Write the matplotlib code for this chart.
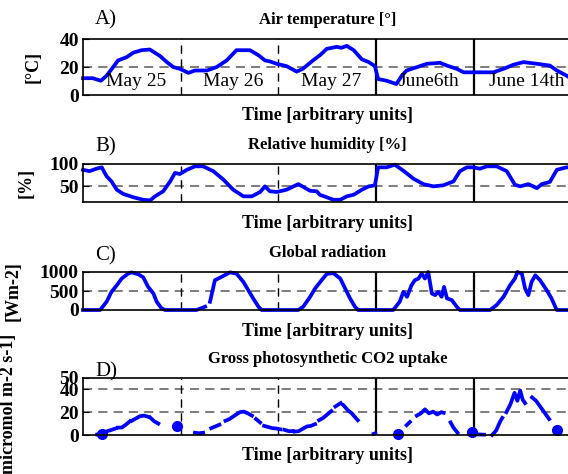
import matplotlib

matplotlib.use("Agg")
from matplotlib import pyplot as plt

nan = float("nan")

plt.rcParams["font.family"] = ["Liberation Serif", "DejaVu Serif"]

# hours since start of the first day (5 days of 24 h)
DAY_EDGES = [24, 48, 72, 96]
DAY_NAMES = ["May 25", "May 26", "May 27", "June6th", "June 14th"]

# A) air temperature [°C]
temp_h = [0, 2.4, 4.4, 5.8, 7.4, 8.6, 10.7, 12.4, 14.4, 16.4, 18.9, 20.6, 22.2, 23.8,
          25.9, 27.5, 30.4, 32.8, 35.3, 37.7, 41, 43.1, 44.7, 45.9, 47.6,
          50, 52.5, 54, 56.5, 58.2, 59.9, 62.3, 63.5, 64.8, 66.5, 68.5, 70.2, 71.7,
          72.5, 74.6, 77, 78.3, 79.5, 82, 84.5, 87.7, 89.4, 91.8, 93.5, 95.9,
          100.8, 103.3, 105.7, 108.2, 111.5, 114.7, 116.4, 118.8, 120]
temp_v = [12, 12, 10.2, 13.8, 19.9, 24.7, 27, 30.3, 32, 32.5, 27.9, 23.5, 19.9, 18.7,
          15.8, 17.5, 17.5, 19.9, 24.7, 32, 32, 28.4, 24.7, 24, 22.3,
          20.6, 16.7, 18.7, 24.7, 28.4, 33, 34.4, 33.7, 35.1, 32, 25.5, 23.5, 20.6,
          11.4, 10.2, 7.8, 13.8, 17.5, 19.9, 22.3, 23, 21, 18.7, 16.2, 16.2,
          16.2, 18.7, 21.6, 23.5, 22.3, 21, 17.5, 13.8, 11.5]

# B) relative humidity [%]
rh_h = [0, 1.6, 3.3, 4.6, 5.8, 7, 8.3, 9.9, 12.4, 14.8, 16.5, 17.7, 19.7, 21.4, 22.6, 23.8,
        25.5, 27.5, 29.5, 32, 34.5, 36.9, 39.4, 41.5, 43.5, 44.7, 45.9, 47.6,
        50, 52.9, 55.8, 57.4, 58.2, 59.9, 61.5, 63.2, 64.8, 66.5, 68.5, 70.2, 71.7,
        72.5, 74.6, 76.6, 78.7, 81.2, 83.6, 86.1, 88.5, 91, 92.6, 94.3, 95.8,
        97.5, 99.2, 101.6, 104.1, 106.1, 107.4, 109.4, 111.5, 112.7, 114.7, 116.4, 118.8, 120]
rh_v = [87, 84, 89.5, 92.6, 72.5, 61, 42.5, 33, 25.5, 20, 18.7, 27.7, 39, 61, 80, 77.6,
        87, 94.8, 94.8, 84, 65, 42.5, 27.7, 27.7, 37.4, 50, 39, 37.4,
        42.5, 55, 40, 39, 31, 25.5, 20, 20, 27.7, 31.3, 42.5, 50, 52.3,
        92.6, 92.6, 98.5, 85, 67, 55, 50, 52.3, 61, 84, 92.6, 92.6,
        89.5, 94.8, 94.8, 84, 53.6, 50, 55, 46, 55, 60, 87, 92.6, 92]

# C) global radiation [W m-2]
rad_h = [0, 4.2, 5.8, 7, 8.3, 9.5, 11.1, 11.9, 13.6, 14.8, 16, 17.3, 18.1, 19.3, 20.2,
         27.9, 30, 30.6, 31.2, 32.4, 34, 36.1, 37.7, 39.4, 40.6, 41.8, 43.1, 43.9,
         52.9, 54.1, 55.8, 57, 58.6, 59.9, 61.5, 63.2, 64.4, 65.6, 66.8, 67.6,
         76.2, 77.8, 78.7, 79.6, 80.7, 81.5, 82.4, 83.2, 84, 84.8, 85.7, 86.5, 87.3,
         88.1, 88.7, 89.4, 90.6, 91.8, 92.6,
         100, 101.6, 103.3, 104.9, 106.1, 106.7, 107.8, 108.6, 109.4, 110.2, 111.1,
         112.3, 113.9, 115.1, 116, 116.4, 120]
rad_v = [0, 0, 217, 478, 652, 827, 958, 990, 940, 860, 608, 435, 217, 44, 0,
         0, 87, nan, 217, 783, 870, 990, 958, 739, 522, 305, 87, 0,
         0, 87, 348, 565, 783, 950, 970, 827, 565, 305, 87, 0,
         0, 217, 478, 348, 652, 783, 827, 958, 827, 1000, 435, 391, 478,
         348, 608, 305, 261, 87, 0,
         0, 130, 348, 652, 827, 1000, 958, 565, 391, 739, 913,
         783, 522, 305, 87, 0, 0]

# D) gross photosynthetic CO2 uptake [micromol m-2 s-1], gaps = missing data
gpp_h = [3.5, 4.5, 6, 7, 8, nan, 8.6, 9.5, 10.5, 11.5, nan, 12, 13, 14, 15, 16, nan,
         16.6, 17.5, 18.5, nan,
         27.5, 28.5, 29.5, nan, 31.5, 32.5, 33.5, nan, 35, 36, 37, 38.5, 39.5, 40.5, 41.5, nan,
         42.5, 43.5, nan, 44.5, 45.5, 46.5, 47.5, 48.5, nan, 49.5, 50.5, 51.5, nan,
         52, 53, 54, 55, 56, 57, nan, 58, 59, 60, 61, nan, 62, 63.3, nan,
         64, 65, 66, 67.5, nan, 71.4, 71.8, nan,
         79.5, 80.3, nan, 82, 83, 84, 85, 86, 87, 88, 88.6, nan, 90.3, 91, 92, nan,
         96, 97, 98.5, nan, 100.5, 101.5, 102.5, 103, nan,
         104, 105, 106, 106.7, 107.4, 108, 108.6, nan, 110.3, 111.3, 112.3, 113.5, 114.5]
gpp_v = [0.5, 1, 3.4, 4.5, 5.7, nan, 6.5, 6.5, 9, 12, nan, 12.5, 14.5, 16.5, 17, 16, nan,
         15, 12, 10, nan,
         2, 1.5, 2, nan, 6, 7.5, 9, nan, 12.5, 14, 16.5, 20, 20.5, 19, 17, nan,
         14, 11, nan, 8, 7, 6, 5.7, 5, nan, 4.5, 3.4, 3.4, nan,
         3, 3.4, 5.5, 7.5, 8, 9.5, nan, 13, 15, 18, 21, nan, 25, 28, nan,
         26, 22, 19, 13, nan, 1, 1.5, nan,
         8.6, 11.4, nan, 17, 19, 22.5, 19, 20.5, 18, 20, 19.5, nan, 11, 6.5, 2, nan,
         0.8, 0.5, 0.3, nan, 0, 4, 12, 15, nan,
         20, 27, 37, 30, 39, 31, 28, nan, 33, 30, 25, 19, 14]
# isolated single measurements
gpp_dot_h = [4.6, 23, 77.5, 95.5, 116.4]
gpp_dot_v = [0.6, 8, 0.6, 2.3, 4.3]

BLUE = "#0000ff"
LEFT, WIDTH = 83 / 568, 488.5 / 568


def make_axes(fig, rect, title, ylabel, letter, yticks, ylim, hlines, label_x, letter_y):
    ax = fig.add_axes(rect)
    ax.set_xlim(0, 120)
    ax.set_ylim(*ylim)
    ax.set_xticks([])
    ax.set_yticks(yticks)
    ax.set_yticklabels([str(t) for t in yticks], fontweight="bold", fontsize=14)
    ax.tick_params(axis="y", direction="in", length=4, pad=3)
    for y in hlines:
        ax.axhline(y, color="0.35", ls=(0, (6, 4)), lw=1.1, zorder=1)
    for x, ls in zip(DAY_EDGES, ["--", "--", "-", "-"]):
        ax.axvline(x, color="k", ls=ls if ls == "-" else (0, (6, 4)),
                   lw=1.6 if ls == "-" else 1.0, zorder=1)
    for s in ax.spines.values():
        s.set_linewidth(1.2)
    ax.set_title(title, fontweight="bold", fontsize=12, pad=11)
    ax.set_xlabel("Time [arbitrary units]", fontweight="bold", fontsize=13, labelpad=9)
    ax.set_ylabel(ylabel, fontweight="bold", fontsize=13)
    ax.yaxis.set_label_coords(label_x, 0.5)
    fig.text(95 / 568, letter_y, letter, fontsize=15, va="center")
    return ax


fig = plt.figure(figsize=(5.68, 4.74), dpi=100)

ax_a = make_axes(fig, [LEFT, 1 - 95 / 474, WIDTH, 56 / 474], "Air temperature [°]", "[°C]",
                 "A)", [0, 20, 40], (0, 40), [20], -0.085, 1 - 20 / 474)
ax_a.plot(temp_h, temp_v, color=BLUE, lw=2.7)
for i, name in enumerate(DAY_NAMES):
    ax_a.text(24 * i + 13, 10, name, ha="center", va="center", fontsize=14)

ax_b = make_axes(fig, [LEFT, 1 - 202 / 474, WIDTH, 38 / 474], "Relative humidity [%]", "[%]",
                 "B)", [50, 100], (15, 100), [50], -0.10, 1 - 147 / 474)
ax_b.plot(rh_h, rh_v, color=BLUE, lw=2.7)

ax_c = make_axes(fig, [LEFT, 1 - 310 / 474, WIDTH, 38 / 474], "Global radiation", "[Wm-2]",
                 "C)", [0, 500, 1000], (0, 1000), [500], -0.125, 1 - 256 / 474)
ax_c.plot(rad_h, rad_v, color=BLUE, lw=2.7)

ax_d = make_axes(fig, [LEFT, 1 - 435 / 474, WIDTH, 57 / 474], "Gross photosynthetic CO2 uptake",
                 "[micromol m-2 s-1]", "D)", [0, 20, 40, 50], (0, 50), [20, 40], -0.135,
                 1 - 372 / 474)
ax_d.plot(gpp_h, gpp_v, color=BLUE, lw=2.7, clip_on=False)
ax_d.plot(gpp_dot_h, gpp_dot_v, "o", color=BLUE, ms=7, clip_on=False)

for ax in (ax_a, ax_b, ax_c):
    ax.lines[-1].set_clip_on(False)

fig.savefig("out.png", dpi=100)
